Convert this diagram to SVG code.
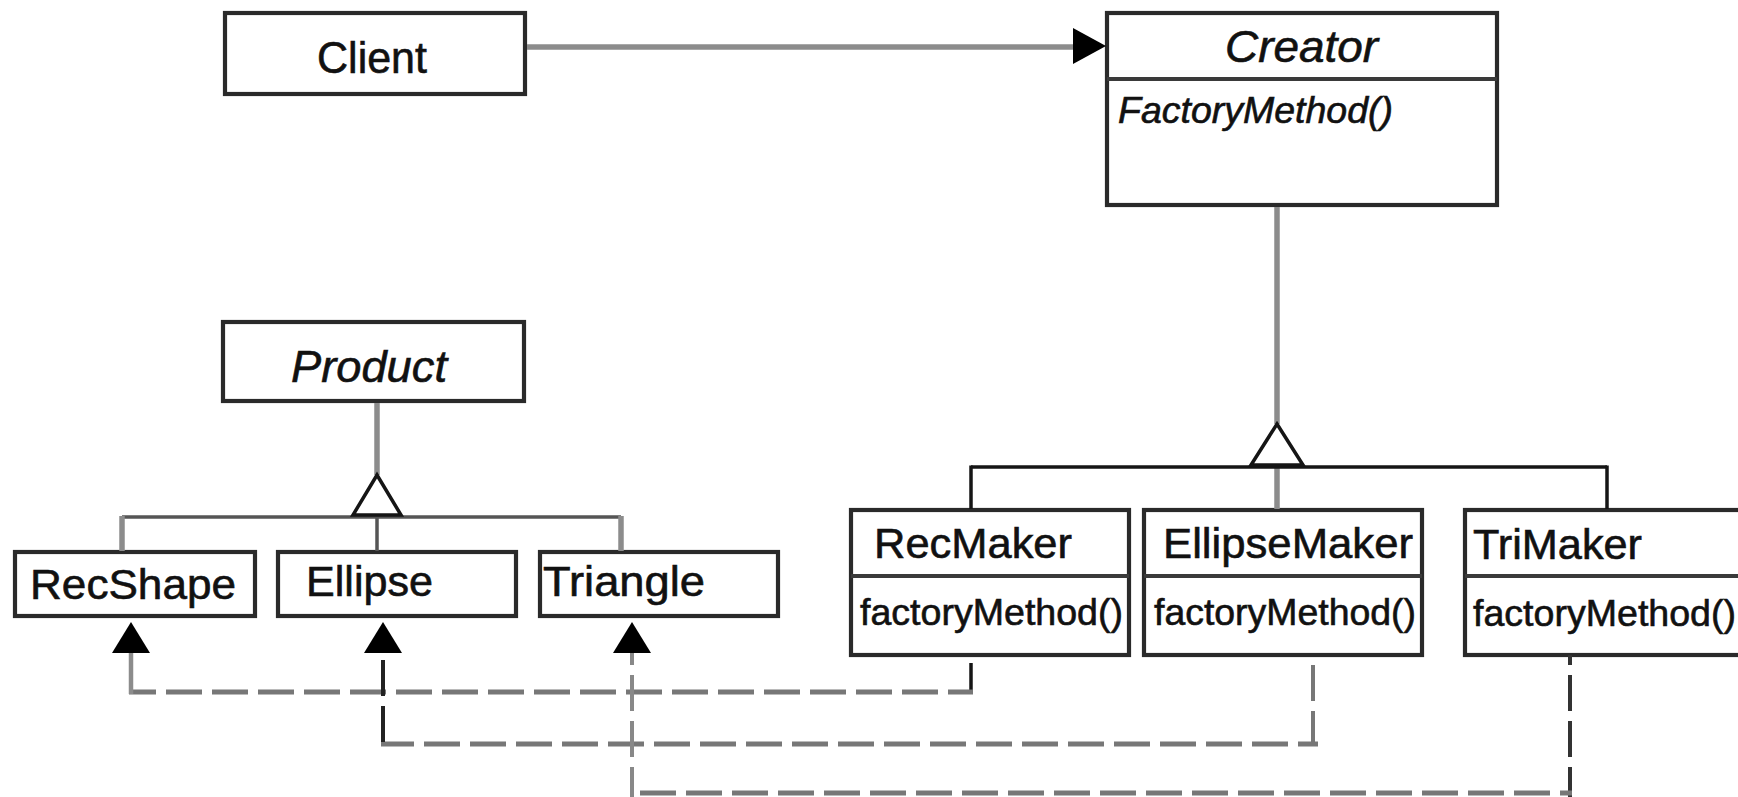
<svg xmlns="http://www.w3.org/2000/svg" width="1738" height="797" viewBox="0 0 1738 797">
<style>
.box{fill:#fff;stroke:#2a2a2a;stroke-width:4.2}
.div{stroke:#3a3a3a;stroke-width:4.2}
.t{font-family:"Liberation Sans",Arial,sans-serif;fill:#111;stroke:#111;stroke-width:0.6}
.it{font-style:italic}
.gl{stroke:#8c8c8c;stroke-width:5.5;fill:none}
.bl{stroke:#151515;stroke-width:3.5;fill:none}
.dg{stroke:#555;stroke-width:3.5;fill:none}
.dh{stroke:#777;stroke-width:5;fill:none;stroke-dasharray:36 10}
.dv{stroke-width:4;fill:none;stroke-dasharray:36 10}
.arr{fill:#000}
.hol{fill:#fff;stroke:#151515;stroke-width:3.5;stroke-linejoin:miter}
</style>
<rect width="1738" height="797" fill="#fff"/>
<g id="nodes">
<g id="client"><rect class="box" x="225" y="13" width="300" height="81"/><text class="t" x="317" y="73" font-size="44" textLength="110" lengthAdjust="spacingAndGlyphs">Client</text></g>
<g id="creator"><rect class="box" x="1107" y="13" width="390" height="192"/><line class="div" x1="1107" y1="79" x2="1497" y2="79"/><text class="t it" x="1225" y="62" font-size="44" textLength="153" lengthAdjust="spacingAndGlyphs">Creator</text><text class="t it" x="1118" y="123" font-size="36" textLength="275" lengthAdjust="spacingAndGlyphs">FactoryMethod()</text></g>
<g id="product"><rect class="box" x="223" y="322" width="301" height="79"/><text class="t it" x="291" y="382" font-size="44" textLength="156" lengthAdjust="spacingAndGlyphs">Product</text></g>
<g id="recshape"><rect class="box" x="15" y="552" width="240" height="64"/><text class="t" x="30" y="599" font-size="42" textLength="206" lengthAdjust="spacingAndGlyphs">RecShape</text></g>
<g id="ellipse"><rect class="box" x="278" y="552" width="238" height="64"/><text class="t" x="306" y="596" font-size="42" textLength="127" lengthAdjust="spacingAndGlyphs">Ellipse</text></g>
<g id="triangle"><rect class="box" x="540" y="552" width="238" height="64"/><text class="t" x="543" y="596" font-size="42" textLength="162" lengthAdjust="spacingAndGlyphs">Triangle</text></g>
<g id="recmaker"><rect class="box" x="851" y="510" width="278" height="145"/><line class="div" x1="851" y1="576" x2="1129" y2="576"/><text class="t" x="874" y="558" font-size="42" textLength="198" lengthAdjust="spacingAndGlyphs">RecMaker</text><text class="t" x="860" y="625" font-size="36" textLength="263" lengthAdjust="spacingAndGlyphs">factoryMethod()</text></g>
<g id="ellipsemaker"><rect class="box" x="1144" y="510" width="278" height="145"/><line class="div" x1="1144" y1="576" x2="1422" y2="576"/><text class="t" x="1163" y="558" font-size="42" textLength="250" lengthAdjust="spacingAndGlyphs">EllipseMaker</text><text class="t" x="1154" y="625" font-size="36" textLength="262" lengthAdjust="spacingAndGlyphs">factoryMethod()</text></g>
<g id="trimaker"><rect class="box" x="1465" y="510" width="290" height="145"/><line class="div" x1="1465" y1="576" x2="1755" y2="576"/><text class="t" x="1473" y="559" font-size="42" textLength="169" lengthAdjust="spacingAndGlyphs">TriMaker</text><text class="t" x="1473" y="626" font-size="36" textLength="263" lengthAdjust="spacingAndGlyphs">factoryMethod()</text></g>
</g>
<g id="connectors">
<line class="gl" x1="527" y1="47" x2="1075" y2="47"/>
<polygon class="arr" points="1073,28 1106,46 1073,64"/>
<line class="gl" x1="1277" y1="207" x2="1277" y2="424"/>
<line class="gl" x1="1277" y1="467" x2="1277" y2="509"/>
<line class="bl" x1="971" y1="467" x2="1607" y2="467"/>
<line class="bl" x1="971" y1="465.5" x2="971" y2="509"/>
<line class="bl" x1="1607" y1="465.5" x2="1607" y2="509"/>
<polygon class="hol" points="1277,424 1303,465 1251,465"/>
<line class="gl" x1="377" y1="403" x2="377" y2="475"/>
<line class="dg" x1="122" y1="517" x2="621" y2="517"/>
<line class="gl" x1="122" y1="516" x2="122" y2="551"/>
<line class="dg" x1="377" y1="517" x2="377" y2="551"/>
<line class="gl" x1="621" y1="516" x2="621" y2="551"/>
<polygon class="hol" points="377,475 401,515 353,515"/>
<line class="bl" x1="971" y1="663" x2="971" y2="694"/>
<line class="dh" x1="129" y1="692" x2="973" y2="692" stroke-dashoffset="9"/>
<line class="gl" x1="131" y1="652" x2="131" y2="694" style="stroke-width:4.5"/>
<polygon class="arr" points="131,622 150,653 112,653"/>
<line class="dv" x1="1313" y1="655" x2="1313" y2="746" stroke="#777" stroke-dashoffset="36"/>
<line class="dh" x1="381" y1="744" x2="1318" y2="744" stroke-dashoffset="3"/>
<line class="dv" x1="383" y1="653" x2="383" y2="744" stroke="#222" stroke-dashoffset="39"/>
<polygon class="arr" points="383,622 402,653 364,653"/>
<line class="dv" x1="1570" y1="655" x2="1570" y2="797" stroke="#333" stroke-dashoffset="26"/>
<line class="dh" x1="632" y1="793" x2="1572" y2="793" stroke-dashoffset="38"/>
<line class="dv" x1="632" y1="653" x2="632" y2="797" stroke="#888" stroke-dashoffset="24"/>
<polygon class="arr" points="632,622 651,653 613,653"/>
</g>
</svg>
